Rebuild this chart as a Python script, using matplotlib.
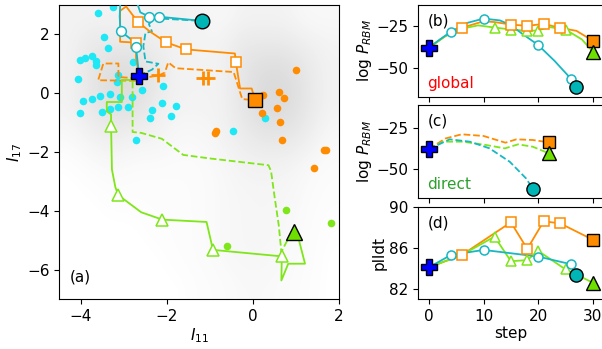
import matplotlib
matplotlib.use('Agg')
import matplotlib.pyplot as plt
import numpy as np

plt.rcParams['font.family'] = 'DejaVu Sans'
plt.rcParams['font.size'] = 11

C_CYAN = '#17b8c4'
C_CYAN_END = '#00b5b5'
C_DOT_CYAN = '#1ee8f5'
C_ORANGE = '#ff8c00'
C_GREEN = '#7fe61a'
C_GREEN_END = '#6ee000'

# ---- panel (a): background density ----
dens_x = [-4.5, 2.0]
dens_y = [-7.0, 3.0]
density = [
    [1, 1, 1, 1, 1, 1, 1, 0.5, 1, 1, 1, 0.5, 0.5],
    [1, 2, 2, 2, 1.5, 1, 1, 1, 2, 2, 2, 1.5, 1],
    [1, 2, 3, 3, 2, 1, 1, 1, 2, 3, 3, 2, 1],
    [1, 2, 2.5, 2.5, 1.5, 1, 1, 1, 2, 3, 3, 2, 1],
    [0.5, 1, 1.5, 1, 1, 0.5, 0.5, 1, 1.5, 2, 2, 1.5, 0.5],
    [0, 0.3, 0.5, 0.3, 0.3, 0.3, 0.3, 0.5, 1, 1, 1, 0.5, 0.3],
    [0, 0, 0.2, 0.2, 0.2, 0.2, 0.3, 0.5, 0.7, 0.8, 0.7, 0.4, 0.2],
    [0, 0, 0, 0, 0.2, 0.2, 0.3, 0.5, 0.7, 0.8, 0.6, 0.3, 0.1],
    [0, 0, 0, 0, 0, 0.2, 0.3, 0.5, 0.7, 0.7, 0.5, 0.3, 0],
    [0, 0, 0, 0, 0, 0, 0.2, 0.3, 0.5, 0.5, 0.4, 0.2, 0],
]

# scattered sample points
cyan_dots_x = [-3.60, -3.26, -3.46, -3.36, -3.91, -3.75, -3.65, -3.64, -4.08, -3.13,
               -3.17, -3.96, -4.02, -3.74, -3.56, -3.52, -3.33, -3.09, -3.13, -2.90,
               -2.82, -2.59, -2.10, -2.11, -2.34, -2.40, -1.79, -1.91, -2.72, -0.47,
               0.28, -2.78, -4.02, -3.32]
cyan_dots_y = [2.72, 2.94, 1.90, 1.55, 1.18, 1.26, 1.09, 0.96, 0.48, 0.61,
               0.39, -0.27, -0.66, -0.21, -0.10, -0.64, -0.04, -0.12, -0.46, -0.46,
               -0.12, 0.10, 0.24, -0.32, -0.56, -0.84, -0.44, -0.78, -1.60, -1.29,
               -0.84, 1.07, 1.13, -0.55]
orange_dots_x = [1.00, 0.24, 0.61, 0.73, 0.57, 0.22, 0.63, 0.67, -0.85, -0.88, 1.64, 1.69, 1.42]
orange_dots_y = [0.79, -0.07, 0.05, -0.18, -0.52, -0.67, -0.97, -1.60, -1.28, -1.35, -1.92, -1.94, -2.56]
green_dots_x = [-0.60, 0.76, 1.81]
green_dots_y = [-5.21, -3.96, -4.42]

start_xy = (-2.65, 0.60)

# global (solid) and direct (dashed) paths in (I11, I17)
cyan_g_x = [-2.65, -2.70, -2.72, -2.85, -3.08, -3.10, -3.08, -2.75, -2.62, -2.41, -2.18, -1.19]
cyan_g_y = [0.60, 1.30, 1.56, 1.85, 2.11, 2.60, 3.30, 3.30, 2.75, 2.60, 2.60, 2.46]
cyan_g_mx = [-2.72, -3.08, -2.41, -2.18]
cyan_g_my = [1.56, 2.11, 2.60, 2.60]
cyan_d_x = [-2.65, -2.35, -2.20, -2.50, -2.55, -2.50, -2.35, -2.42, -2.30, -1.19]
cyan_d_y = [0.60, 0.80, 1.00, 1.08, 1.60, 2.05, 2.10, 2.35, 2.55, 2.46]

orange_g_x = [-2.65, -2.72, -2.72, -3.09, -3.09, -2.95, -2.68, -2.40, -2.02, -1.56, -0.42, -0.40, -0.30, -0.03, 0.05]
orange_g_y = [0.60, 1.20, 1.72, 1.75, 2.80, 2.95, 2.43, 2.10, 1.73, 1.49, 1.35, 1.07, 0.16, 0.16, -0.24]
orange_g_mx = [-2.72, -2.68, -2.02, -1.56, -0.40]
orange_g_my = [1.72, 2.43, 1.73, 1.49, 1.07]
orange_d_x = [-2.65, -2.63, -3.60, -3.48, -3.13, -3.13, -2.65, -2.20, -2.05, -1.97, -1.80, -0.45, -0.25, 0.05]
orange_d_y = [0.60, 0.42, 0.44, 1.01, 1.01, 0.55, 0.50, 0.60, 0.70, 1.05, 0.85, 0.72, -0.20, -0.24]
orange_plus_x = [-2.20, -1.17, -1.05]
orange_plus_y = [0.62, 0.50, 0.50]

green_g_x = [-2.65, -2.65, -3.05, -3.05, -3.40, -3.40, -3.30, -3.30, -3.28, -3.20, -3.13, -2.60,
             -2.11, -1.08, -0.93, 0.67, 0.66, 0.82, 1.21, 1.02, 0.95]
green_g_y = [0.60, 0.45, 0.45, -0.30, -0.30, -0.62, -0.72, -1.12, -2.60, -3.20, -3.47, -4.05,
             -4.30, -4.38, -5.33, -5.55, -6.37, -5.80, -5.80, -4.72, -4.72]
green_g_mx = [-3.30, -3.13, -2.11, -0.93, 0.67]
green_g_my = [-1.12, -3.47, -4.30, -5.33, -5.55]
green_d_x = [-2.65, -2.80, -2.80, -2.60, -2.12, -1.62, -1.00, 0.36, 0.42, 0.50, 0.60, 0.66, 0.80, 0.95]
green_d_y = [0.60, 0.45, -1.32, -1.35, -1.55, -2.10, -2.22, -2.45, -2.65, -3.50, -4.50, -5.40, -5.00, -4.72]

end_cyan = (-1.19, 2.46)
end_orange = (0.05, -0.24)
end_green = (0.95, -4.72)

# ---- panel (b): global log P_RBM vs step ----
b_cyan_s = [0, 2, 4, 7, 10, 13, 15, 17, 20, 23, 26, 27]
b_cyan_v = [-38, -33, -28.4, -23, -20.4, -21.5, -24.4, -29.4, -36.4, -46, -56.8, -62]
b_cyan_ms = [4, 10, 20, 26]
b_cyan_mv = [-28.4, -20.4, -36.4, -56.8]
b_orange_s = [0, 3, 6, 10, 12, 15, 18, 21, 24, 27, 30]
b_orange_v = [-38, -31, -26, -22, -22.5, -24, -24.8, -23.6, -26, -27.8, -33.8]
b_orange_ms = [6, 15, 18, 21, 24]
b_orange_mv = [-26, -24, -24.8, -23.6, -26]
b_green_s = [0, 3, 6, 9, 12, 15, 18, 20, 22, 25, 28, 30]
b_green_v = [-38, -31, -26.5, -24.5, -25.8, -27, -27.8, -27.6, -25.5, -27, -33, -40.4]
b_green_ms = [12, 15, 18, 20, 25]
b_green_mv = [-25.8, -27, -27.8, -27.6, -27]

# ---- panel (c): direct log P_RBM vs step ----
c_orange_s = [0, 3, 6, 10, 14, 16, 19, 22]
c_orange_v = [-37.8, -31.5, -29, -30, -34, -32, -32.4, -33.8]
c_green_s = [0, 2.6, 6.2, 10.5, 13.9, 16.3, 19, 22]
c_green_v = [-37.8, -33.4, -33.4, -35.4, -37.4, -35, -36.4, -40.4]
c_cyan_s = [0, 3.8, 7.5, 11.1, 14.8, 17.8, 19]
c_cyan_v = [-37.8, -32, -33.4, -37.4, -45.4, -55.4, -61.4]

# ---- panel (d): plldt vs step ----
d_cyan_s = [0, 4, 10, 20, 26, 27]
d_cyan_v = [84.1, 85.3, 85.8, 85.15, 84.4, 83.3]
d_orange_s = [0, 6, 15, 18, 21, 24, 30]
d_orange_v = [84.1, 85.3, 88.5, 85.9, 88.6, 88.4, 86.8]
d_green_s = [0, 6, 12, 15, 18, 20, 25, 30]
d_green_v = [84.1, 85.3, 87.1, 84.7, 84.8, 85.7, 83.9, 82.6]

fig = plt.figure(figsize=(6.02, 3.49), dpi=100)

# ================= panel (a) =================
ax = fig.add_axes([0.0988, 0.1433, 0.4643, 0.8424])
dens = np.array(density, dtype=float)
rgba = np.zeros(dens.shape + (4,))
rgba[..., :3] = 0.45
rgba[..., 3] = dens / 3.0 * 0.26
ax.imshow(rgba, extent=[dens_x[0], dens_x[1], dens_y[0], dens_y[1]],
          interpolation='bicubic', aspect='auto', zorder=0)

ax.scatter(cyan_dots_x, cyan_dots_y, s=30, color=C_DOT_CYAN, lw=0, zorder=2)
ax.scatter(orange_dots_x, orange_dots_y, s=30, color=C_ORANGE, lw=0, zorder=2)
ax.scatter(green_dots_x, green_dots_y, s=30, color=C_GREEN, lw=0, zorder=2)

ax.plot(green_d_x, green_d_y, '--', color=C_GREEN, lw=1.3, zorder=3)
ax.plot(orange_d_x, orange_d_y, '--', color=C_ORANGE, lw=1.3, zorder=3)
ax.plot(cyan_d_x, cyan_d_y, '--', color=C_CYAN, lw=1.3, zorder=3)
ax.plot(green_g_x, green_g_y, '-', color=C_GREEN, lw=1.3, zorder=3)
ax.plot(orange_g_x, orange_g_y, '-', color=C_ORANGE, lw=1.3, zorder=3)
ax.plot(cyan_g_x, cyan_g_y, '-', color=C_CYAN, lw=1.3, zorder=3)

ax.plot(green_g_mx, green_g_my, '^', ms=8, mfc='white', mec=C_GREEN, mew=1.1, ls='none', zorder=4)
ax.plot(orange_g_mx, orange_g_my, 's', ms=7, mfc='white', mec=C_ORANGE, mew=1.1, ls='none', zorder=4)
ax.plot(cyan_g_mx, cyan_g_my, 'o', ms=7, mfc='white', mec=C_CYAN, mew=1.1, ls='none', zorder=4)
ax.plot(orange_plus_x, orange_plus_y, '+', ms=10, mew=2, color=C_ORANGE, ls='none', zorder=4)

ax.plot(*end_cyan, 'o', ms=10.5, mfc=C_CYAN_END, mec='black', mew=1, zorder=5)
ax.plot(*end_orange, 's', ms=10, mfc=C_ORANGE, mec='black', mew=1, zorder=5)
ax.plot(*end_green, '^', ms=11, mfc=C_GREEN_END, mec='black', mew=1, zorder=5)
ax.plot(*start_xy, 'P', ms=12, mfc='blue', mec='black', mew=1, zorder=6)

ax.set_xlim(-4.5, 2)
ax.set_ylim(-7, 3)
ax.set_xticks([-4, -2, 0, 2])
ax.set_yticks([-6, -4, -2, 0, 2])
ax.set_xlabel(r'$I_{11}$', labelpad=2)
ax.set_ylabel(r'$I_{17}$', labelpad=2)
ax.text(-4.25, -6.4, '(a)', fontsize=11)

# ================= right panels =================
left_r, width_r = 0.6944, 0.3085
axb = fig.add_axes([left_r, 0.7212, width_r, 0.2653])
axc = fig.add_axes([left_r, 0.4327, width_r, 0.2665])
axd = fig.add_axes([left_r, 0.1433, width_r, 0.2636])


def end_markers(a, s_c, v_c, s_o, v_o, s_g, v_g):
    a.plot(s_c, v_c, 'o', ms=9.5, mfc=C_CYAN_END, mec='black', mew=1, zorder=5)
    a.plot(s_o, v_o, 's', ms=9, mfc=C_ORANGE, mec='black', mew=1, zorder=5)
    a.plot(s_g, v_g, '^', ms=10, mfc=C_GREEN_END, mec='black', mew=1, zorder=5)


# (b)
axb.plot(b_orange_s, b_orange_v, '-', color=C_ORANGE, lw=1.3, zorder=3)
axb.plot(b_green_s, b_green_v, '-', color=C_GREEN, lw=1.3, zorder=3)
axb.plot(b_cyan_s, b_cyan_v, '-', color=C_CYAN, lw=1.3, zorder=3)
axb.plot(b_green_ms, b_green_mv, '^', ms=7, mfc='white', mec=C_GREEN, mew=1.1, ls='none', zorder=4)
axb.plot(b_orange_ms, b_orange_mv, 's', ms=6.5, mfc='white', mec=C_ORANGE, mew=1.1, ls='none', zorder=4)
axb.plot(b_cyan_ms, b_cyan_mv, 'o', ms=6.5, mfc='white', mec=C_CYAN, mew=1.1, ls='none', zorder=4)
end_markers(axb, b_cyan_s[-1], b_cyan_v[-1], b_orange_s[-1], b_orange_v[-1], b_green_s[-1], b_green_v[-1])
axb.plot(0, b_cyan_v[0], 'P', ms=11, mfc='blue', mec='black', mew=1, zorder=6)
axb.set_ylim(-68, -12)
axb.text(0.05, 0.1, 'global', color='red', transform=axb.transAxes, fontsize=11)
axb.text(0.05, 0.78, '(b)', transform=axb.transAxes, fontsize=11)

# (c)
axc.plot(c_orange_s, c_orange_v, '--', color=C_ORANGE, lw=1.3, zorder=3)
axc.plot(c_green_s, c_green_v, '--', color=C_GREEN, lw=1.3, zorder=3)
axc.plot(c_cyan_s, c_cyan_v, '--', color=C_CYAN, lw=1.3, zorder=3)
end_markers(axc, c_cyan_s[-1], c_cyan_v[-1], c_orange_s[-1], c_orange_v[-1], c_green_s[-1], c_green_v[-1])
axc.plot(0, c_cyan_v[0], 'P', ms=11, mfc='blue', mec='black', mew=1, zorder=6)
axc.set_ylim(-67, -11.5)
axc.text(0.05, 0.1, 'direct', color='#2ca02c', transform=axc.transAxes, fontsize=11)
axc.text(0.05, 0.78, '(c)', transform=axc.transAxes, fontsize=11)

# (d)
axd.plot(d_orange_s, d_orange_v, '-', color=C_ORANGE, lw=1.3, zorder=3)
axd.plot(d_green_s, d_green_v, '-', color=C_GREEN, lw=1.3, zorder=3)
axd.plot(d_cyan_s, d_cyan_v, '-', color=C_CYAN, lw=1.3, zorder=3)
axd.plot(d_green_s[2:-1], d_green_v[2:-1], '^', ms=7, mfc='white', mec=C_GREEN, mew=1.1, ls='none', zorder=4)
axd.plot(d_orange_s[1:-1], d_orange_v[1:-1], 's', ms=6.5, mfc='white', mec=C_ORANGE, mew=1.1, ls='none', zorder=4)
axd.plot(d_cyan_s[1:-1], d_cyan_v[1:-1], 'o', ms=6.5, mfc='white', mec=C_CYAN, mew=1.1, ls='none', zorder=4)
end_markers(axd, d_cyan_s[-1], d_cyan_v[-1], d_orange_s[-1], d_orange_v[-1], d_green_s[-1], d_green_v[-1])
axd.plot(0, d_cyan_v[0], 'P', ms=11, mfc='blue', mec='black', mew=1, zorder=6)
axd.set_ylim(81, 90)
axd.set_yticks([82, 86, 90])
axd.text(0.05, 0.78, '(d)', transform=axd.transAxes, fontsize=11)

for a in (axb, axc, axd):
    a.set_xlim(-2, 32)
    a.set_xticks([0, 10, 20, 30])
for a in (axb, axc):
    a.set_yticks([-25, -50])
    a.set_xticklabels([])
    a.set_ylabel(r'log $P_{RBM}$', labelpad=2)
axd.set_ylabel('plldt', labelpad=2)
axd.set_xlabel('step', labelpad=2)

fig.savefig('out.png', dpi=100)
